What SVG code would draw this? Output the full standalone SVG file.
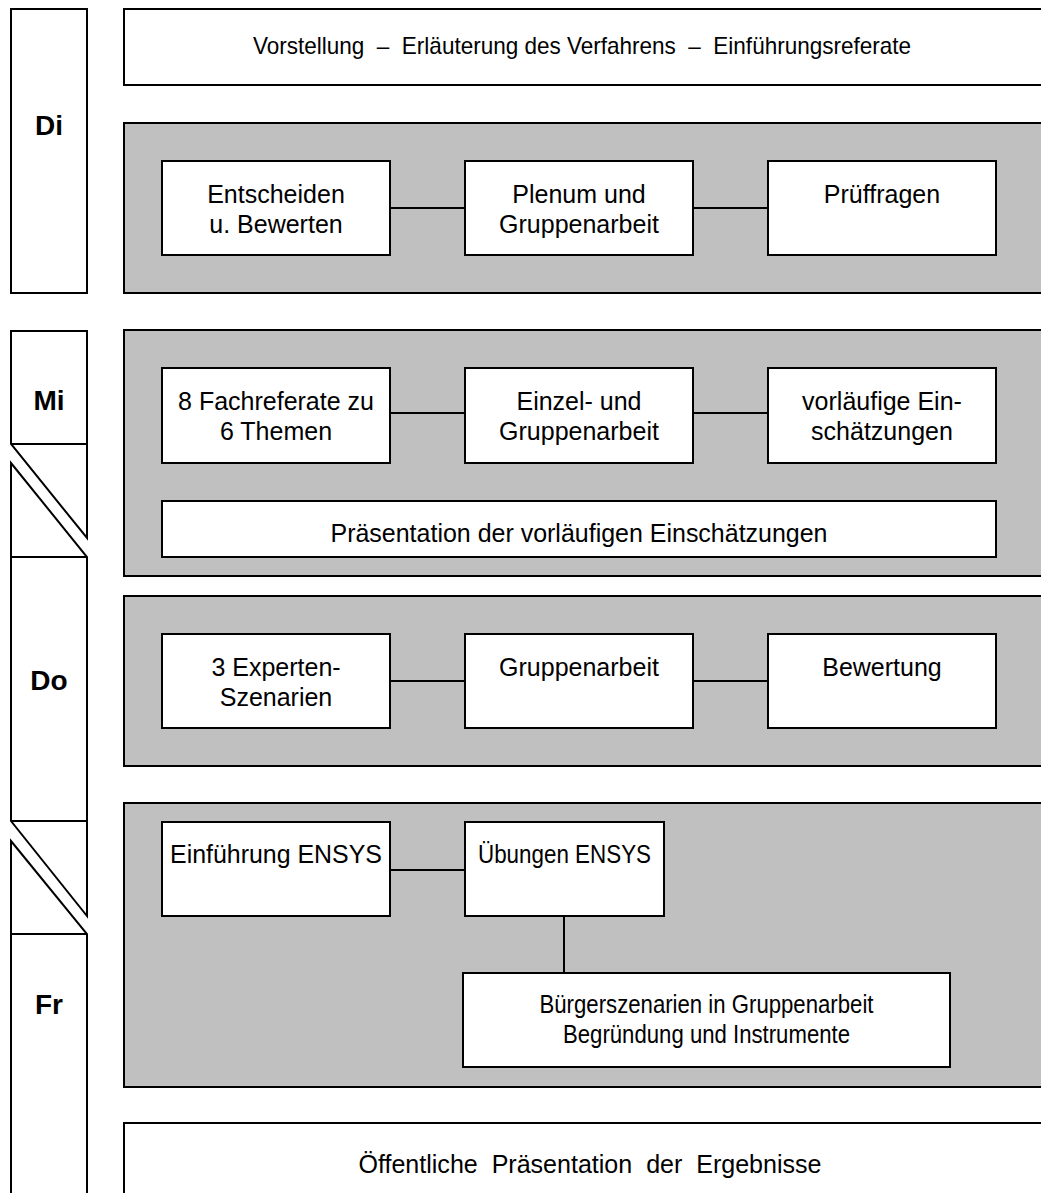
<svg xmlns="http://www.w3.org/2000/svg" width="1041" height="1193" viewBox="0 0 1041 1193">
<style>
  .day { fill: #ffffff; stroke: #000; stroke-width: 2; }
  .sep { stroke: #000; stroke-width: 2; fill: none; }
  .dl { font-family: "Liberation Sans", Arial, sans-serif; font-weight: bold; font-size: 28px; text-anchor: middle; fill: #000; }
  .panel { fill: #c0c0c0; stroke: #000; stroke-width: 2; }
  .wide { fill: #ffffff; stroke: #000; stroke-width: 2; }
  .box { fill: #ffffff; stroke: #000; stroke-width: 2; }
  .t { font-family: "Liberation Sans", Arial, sans-serif; font-size: 25px; text-anchor: middle; fill: #000; }
  .c { stroke: #000; stroke-width: 2; fill: none; }
</style>

<!-- Day column -->
<g id="day-di">
  <rect class="day" x="11" y="9" width="76" height="284"/>
  <text class="dl" x="49" y="135">Di</text>
</g>
<g id="day-mi">
  <polygon class="day" points="11,331 87,331 87,538 11,444"/>
  <line class="sep" x1="11" y1="444" x2="87" y2="444"/>
  <text class="dl" x="49" y="410">Mi</text>
</g>
<g id="day-do">
  <polygon class="day" points="11,463 87,557 87,916 11,821"/>
  <line class="sep" x1="11" y1="557" x2="87" y2="557"/>
  <line class="sep" x1="11" y1="821" x2="87" y2="821"/>
  <text class="dl" x="49" y="690">Do</text>
</g>
<g id="day-fr">
  <polygon class="day" points="11,841 87,934 87,1200 11,1200"/>
  <line class="sep" x1="11" y1="934" x2="87" y2="934"/>
  <text class="dl" x="49" y="1014">Fr</text>
</g>

<!-- Panels -->
<g id="intro">
  <rect class="wide" x="124" y="9" width="930" height="76"/>
  <text class="t" x="582" y="54" style="font-size:24px" textLength="658" lengthAdjust="spacingAndGlyphs" xml:space="preserve">Vorstellung  –  Erläuterung des Verfahrens  –  Einführungsreferate</text>
</g>
<g id="panel-di"><rect class="panel" x="124" y="123" width="930" height="170"/></g>
<g id="panel-mi"><rect class="panel" x="124" y="330" width="930" height="246"/></g>
<g id="panel-do"><rect class="panel" x="124" y="596" width="930" height="170"/></g>
<g id="panel-fr"><rect class="panel" x="124" y="803" width="930" height="284"/></g>
<g id="final">
  <rect class="wide" x="124" y="1123" width="930" height="90"/>
  <text class="t" x="590" y="1173" textLength="463" lengthAdjust="spacingAndGlyphs" xml:space="preserve">Öffentliche  Präsentation  der  Ergebnisse</text>
</g>

<!-- Connectors -->
<g id="connectors">
  <line class="c" x1="390" y1="208" x2="465" y2="208"/>
  <line class="c" x1="693" y1="208" x2="768" y2="208"/>
  <line class="c" x1="390" y1="413" x2="465" y2="413"/>
  <line class="c" x1="693" y1="413" x2="768" y2="413"/>
  <line class="c" x1="390" y1="681" x2="465" y2="681"/>
  <line class="c" x1="693" y1="681" x2="768" y2="681"/>
  <line class="c" x1="390" y1="870" x2="465" y2="870"/>
  <line class="c" x1="564" y1="916" x2="564" y2="973"/>
</g>

<!-- Di nodes -->
<g id="n-entscheiden">
  <rect class="box" x="162" y="161" width="228" height="94"/>
  <text class="t" x="276" y="203">Entscheiden</text>
  <text class="t" x="276" y="233">u. Bewerten</text>
</g>
<g id="n-plenum">
  <rect class="box" x="465" y="161" width="228" height="94"/>
  <text class="t" x="579" y="203">Plenum und</text>
  <text class="t" x="579" y="233">Gruppenarbeit</text>
</g>
<g id="n-prueffragen">
  <rect class="box" x="768" y="161" width="228" height="94"/>
  <text class="t" x="882" y="203">Prüffragen</text>
</g>

<!-- Mi nodes -->
<g id="n-fachreferate">
  <rect class="box" x="162" y="368" width="228" height="95"/>
  <text class="t" x="276" y="410">8 Fachreferate zu</text>
  <text class="t" x="276" y="440">6 Themen</text>
</g>
<g id="n-einzel">
  <rect class="box" x="465" y="368" width="228" height="95"/>
  <text class="t" x="579" y="410">Einzel- und</text>
  <text class="t" x="579" y="440">Gruppenarbeit</text>
</g>
<g id="n-vorlaeufig">
  <rect class="box" x="768" y="368" width="228" height="95"/>
  <text class="t" x="882" y="410">vorläufige Ein-</text>
  <text class="t" x="882" y="440">schätzungen</text>
</g>
<g id="n-praesentation">
  <rect class="box" x="162" y="501" width="834" height="56"/>
  <text class="t" x="579" y="542" textLength="497" lengthAdjust="spacingAndGlyphs">Präsentation der vorläufigen Einschätzungen</text>
</g>

<!-- Do nodes -->
<g id="n-experten">
  <rect class="box" x="162" y="634" width="228" height="94"/>
  <text class="t" x="276" y="676">3 Experten-</text>
  <text class="t" x="276" y="706">Szenarien</text>
</g>
<g id="n-gruppenarbeit">
  <rect class="box" x="465" y="634" width="228" height="94"/>
  <text class="t" x="579" y="676">Gruppenarbeit</text>
</g>
<g id="n-bewertung">
  <rect class="box" x="768" y="634" width="228" height="94"/>
  <text class="t" x="882" y="676">Bewertung</text>
</g>

<!-- Fr nodes -->
<g id="n-einfuehrung">
  <rect class="box" x="162" y="822" width="228" height="94"/>
  <text class="t" x="276" y="863" textLength="212" lengthAdjust="spacingAndGlyphs">Einführung ENSYS</text>
</g>
<g id="n-uebungen">
  <rect class="box" x="465" y="822" width="199" height="94"/>
  <text class="t" x="564.5" y="863" textLength="173" lengthAdjust="spacingAndGlyphs">Übungen ENSYS</text>
</g>
<g id="n-buerger">
  <rect class="box" x="463" y="973" width="487" height="94"/>
  <text class="t" x="706.5" y="1013" textLength="334" lengthAdjust="spacingAndGlyphs">Bürgerszenarien in Gruppenarbeit</text>
  <text class="t" x="706.5" y="1043" textLength="287" lengthAdjust="spacingAndGlyphs">Begründung und Instrumente</text>
</g>
</svg>
